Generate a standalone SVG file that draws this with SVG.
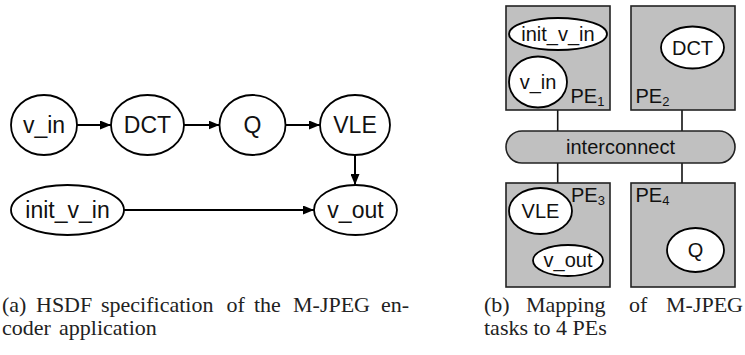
<svg xmlns="http://www.w3.org/2000/svg" width="745" height="355" viewBox="0 0 745 355">
<style>
.n{fill:#fff;stroke:#000;stroke-width:1.8}
.pe{fill:#c0c0c0;stroke:#222;stroke-width:1.6}
.t{font-family:"Liberation Sans",Arial,sans-serif;font-size:23px;fill:#111;text-anchor:middle}
.s{font-family:"Liberation Sans",Arial,sans-serif;font-size:20px;fill:#111;text-anchor:middle}
.l{font-family:"Liberation Sans",Arial,sans-serif;font-size:20px;fill:#111}
.sub{font-size:13px}
.c{font-family:"Liberation Serif","Times New Roman",serif;font-size:22px;fill:#222}
.e{stroke:#000;stroke-width:2;fill:none}
.w{stroke:#111;stroke-width:1.6}
</style>
<defs>
<marker id="arr" markerWidth="11" markerHeight="9" refX="11" refY="4.5" orient="auto" markerUnits="userSpaceOnUse">
<path d="M0,0 L11,4.5 L0,9 z" fill="#000"/>
</marker>
</defs>
<g id="edges">
<line class="e" x1="77" y1="125" x2="111" y2="125" marker-end="url(#arr)"/>
<line class="e" x1="184" y1="125" x2="219.5" y2="125" marker-end="url(#arr)"/>
<line class="e" x1="285.5" y1="125" x2="320" y2="125" marker-end="url(#arr)"/>
<line class="e" x1="355" y1="155" x2="355" y2="185" marker-end="url(#arr)"/>
<line class="e" x1="124" y1="210" x2="314" y2="210" marker-end="url(#arr)"/>
</g>
<g id="v_in"><ellipse class="n" cx="44" cy="125" rx="33" ry="30"/><text class="t" x="44" y="132.5">v_in</text></g>
<g id="DCT"><ellipse class="n" cx="147.5" cy="125" rx="36.5" ry="30"/><text class="t" x="147.5" y="132.5">DCT</text></g>
<g id="Q"><ellipse class="n" cx="252.5" cy="125" rx="33" ry="30"/><text class="t" x="252.5" y="132.5">Q</text></g>
<g id="VLE"><ellipse class="n" cx="355" cy="125" rx="35" ry="30"/><text class="t" x="355" y="132.5">VLE</text></g>
<g id="init_v_in"><ellipse class="n" cx="67.5" cy="210" rx="56.5" ry="25"/><text class="t" x="67.5" y="217.5">init_v_in</text></g>
<g id="v_out"><ellipse class="n" cx="355.5" cy="210" rx="41.5" ry="25"/><text class="t" x="355.5" y="217.5">v_out</text></g>

<g id="links">
<line class="w" x1="557.7" y1="110" x2="557.7" y2="183"/>
<line class="w" x1="682" y1="110" x2="682" y2="183"/>
</g>
<g id="interconnect"><rect class="pe" x="506" y="131" width="229" height="32" rx="16"/><text class="s" x="620.5" y="154">interconnect</text></g>
<g id="PE1">
<rect class="pe" x="506" y="6" width="104" height="104"/>
<text class="l" x="570.5" y="103">PE<tspan class="sub" dy="3">1</tspan></text>
<g id="m_init_v_in"><ellipse class="n" cx="558" cy="34" rx="49" ry="16"/><text class="s" x="558" y="40.5">init_v_in</text></g>
<g id="m_v_in"><ellipse class="n" cx="538" cy="82" rx="29" ry="25.5"/><text class="s" x="538" y="89">v_in</text></g>
</g>
<g id="PE2">
<rect class="pe" x="631" y="6" width="104" height="104"/>
<text class="l" x="635.5" y="103">PE<tspan class="sub" dy="3">2</tspan></text>
<g id="m_DCT"><ellipse class="n" cx="692.5" cy="47.5" rx="31.5" ry="21"/><text class="s" x="692.5" y="54.5">DCT</text></g>
</g>
<g id="PE3">
<rect class="pe" x="506" y="183" width="104" height="104"/>
<text class="l" x="571" y="202">PE<tspan class="sub" dy="3">3</tspan></text>
<g id="m_VLE"><ellipse class="n" cx="540.5" cy="211" rx="31.5" ry="23"/><text class="s" x="540.5" y="218">VLE</text></g>
<g id="m_v_out"><ellipse class="n" cx="568" cy="260.5" rx="35" ry="15.5"/><text class="s" x="568" y="267">v_out</text></g>
</g>
<g id="PE4">
<rect class="pe" x="631" y="183" width="104" height="104"/>
<text class="l" x="635.5" y="202">PE<tspan class="sub" dy="3">4</tspan></text>
<g id="m_Q"><ellipse class="n" cx="695.5" cy="250" rx="28.5" ry="22"/><text class="s" x="695.5" y="257">Q</text></g>
</g>

<g id="captions">
<text class="c" y="312"><tspan x="2">(a)</tspan><tspan x="36">HSDF</tspan><tspan x="101">specification</tspan><tspan x="226.5">of</tspan><tspan x="254">the</tspan><tspan x="293">M-JPEG</tspan><tspan x="381">en-</tspan></text>
<text class="c" y="335"><tspan x="2">coder</tspan><tspan x="59">application</tspan></text>
<text class="c" y="312"><tspan x="484">(b)</tspan><tspan x="526">Mapping</tspan><tspan x="629">of</tspan><tspan x="666">M-JPEG</tspan></text>
<text class="c" x="484" y="335">tasks to 4 PEs</text>
</g>
</svg>
